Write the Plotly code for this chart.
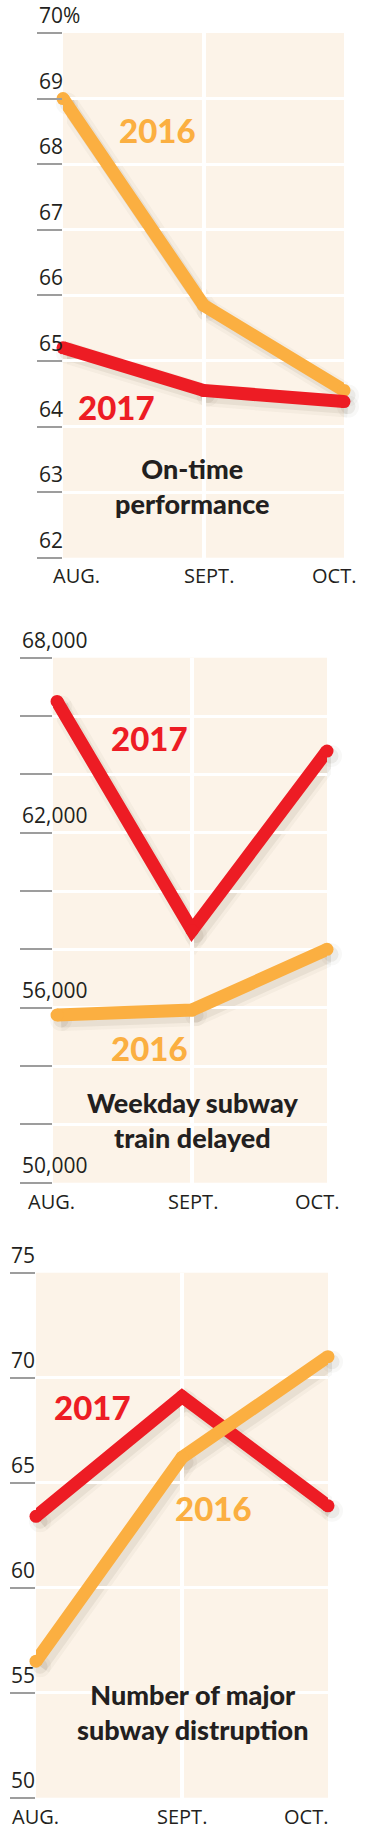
import plotly.graph_objects as go

# ---------------- data ----------------
months = ["AUG.", "SEPT.", "OCT."]

ontime_2016 = [69.0, 65.85, 64.55]
ontime_2017 = [65.2, 64.55, 64.38]
ontime_ticks = [62, 63, 64, 65, 66, 67, 68, 69, 70]
ontime_ticktext = ["62", "63", "64", "65", "66", "67", "68", "69", "70%"]

delays_2016 = [55750, 55920, 58000]
delays_2017 = [66500, 58650, 64800]
delays_ticks = [50000, 52000, 54000, 56000, 58000, 60000, 62000, 64000, 66000, 68000]
delays_ticktext = ["50,000", "", "", "56,000", "", "", "62,000", "", "", "68,000"]

disrupt_2016 = [56.5, 66.2, 71.0]
disrupt_2017 = [63.4, 69.1, 63.9]
disrupt_ticks = [50, 55, 60, 65, 70, 75]
disrupt_ticktext = ["50", "55", "60", "65", "70", "75"]

titles = ["On-time<br>performance", "Weekday subway<br>train delayed",
          "Number of major<br>subway distruption"]

# ---------------- styling / layout ----------------
W, H = 387, 1831
ORANGE = "#FBAF41"
RED = "#ED1C24"
BG = "#FCF3E8"
INK = "#231F20"
TICKC = "#9D9D9D"
BIG = "Lato, DejaVu Sans"
SMALL = "Open Sans, Lato, sans-serif"

panels = [
    dict(left=63, right=344, top=33, bottom=557.7, xr=[0, 2], yr=[62, 70],
         ticks=ontime_ticks, ticktext=ontime_ticktext, ticklen=25, lab_left=37,
         s16=ontime_2016, s17=ontime_2017, order=["2016", "2017"],
         lab16=(0.67, 68.52), lab17=(0.384, 64.3), title=(0.92, 63.09),
         xlab_y=576, xshift=[13, 5.5, -10.5]),
    dict(left=53, right=327, top=657.7, bottom=1182.7, xr=[-0.03, 2], yr=[50000, 68000],
         ticks=delays_ticks, ticktext=delays_ticktext, ticklen=32, lab_left=20,
         s16=delays_2016, s17=delays_2017, order=["2016", "2017"],
         lab16=(0.685, 54620), lab17=(0.685, 65247), title=(1.007, 52152),
         xlab_y=1201.7, xshift=[-5.5, 0.5, -10]),
    dict(left=36, right=328, top=1272.7, bottom=1797.7, xr=[0, 2], yr=[50, 75],
         ticks=disrupt_ticks, ticktext=disrupt_ticktext, ticklen=25, lab_left=9,
         s16=disrupt_2016, s17=disrupt_2017, order=["2017", "2016"],
         lab16=(1.216, 63.8), lab17=(0.384, 68.6), title=(1.075, 54.1),
         xlab_y=1816, xshift=[-1, -0.5, -22]),
]

SHX, SHY = 4, 5  # drop-shadow offset in px

fig = go.Figure()
layout = dict(width=W, height=H, margin=dict(l=0, r=0, t=0, b=0),
              paper_bgcolor="white", plot_bgcolor="rgba(0,0,0,0)",
              showlegend=False, annotations=[], shapes=[])

xs = [0, 1, 2]
for i, p in enumerate(panels):
    sid = i + 1          # shadow subplot id (drawn first)
    mid = i + 4          # main subplot id
    dom_x = [p["left"] / W, p["right"] / W]
    dom_y = [1 - p["bottom"] / H, 1 - p["top"] / H]
    sdom_x = [(p["left"] + SHX) / W, (p["right"] + SHX) / W]
    sdom_y = [1 - (p["bottom"] + SHY) / H, 1 - (p["top"] + SHY) / H]

    sx = "x" if sid == 1 else f"x{sid}"
    sy = "y" if sid == 1 else f"y{sid}"
    mx, my = f"x{mid}", f"y{mid}"

    layout[f"xaxis{'' if sid == 1 else sid}"] = dict(domain=sdom_x, range=p["xr"], visible=False,
                                                    anchor=sy)
    layout[f"yaxis{'' if sid == 1 else sid}"] = dict(domain=sdom_y, range=p["yr"], visible=False,
                                                    anchor=sx)
    layout[f"xaxis{mid}"] = dict(domain=dom_x, range=p["xr"], anchor=my,
                                 tickmode="array", tickvals=[1], showticklabels=False,
                                 ticks="", showgrid=True, gridcolor="white", gridwidth=3.5,
                                 zeroline=False, showline=False)
    layout[f"yaxis{mid}"] = dict(domain=dom_y, range=p["yr"], anchor=mx,
                                 tickmode="array", tickvals=p["ticks"], showticklabels=False,
                                 ticks="outside", ticklen=p["ticklen"], tickwidth=2,
                                 tickcolor=TICKC, showgrid=True, gridcolor="white",
                                 gridwidth=2.5, zeroline=False, showline=False)

    # background panel
    layout["shapes"].append(dict(type="rect", xref="paper", yref="paper",
                                 x0=dom_x[0], x1=dom_x[1], y0=dom_y[0], y1=dom_y[1],
                                 fillcolor=BG, line=dict(width=0), layer="below"))

    series = {"2016": (p["s16"], ORANGE), "2017": (p["s17"], RED)}
    for key in p["order"]:
        vals, col = series[key]
        for w, a in [(22, 0.035), (15, 0.07)]:
            fig.add_trace(go.Scatter(x=xs, y=vals, xaxis=sx, yaxis=sy, mode="lines+markers",
                                     line=dict(color=f"rgba(70,50,30,{a})", width=w),
                                     marker=dict(size=w, color=f"rgba(70,50,30,{a})"),
                                     cliponaxis=False, hoverinfo="skip"))
    for key in p["order"]:
        vals, col = series[key]
        fig.add_trace(go.Scatter(x=xs, y=vals, xaxis=mx, yaxis=my, mode="lines+markers",
                                 line=dict(color=col, width=13),
                                 marker=dict(size=13, color=col, line=dict(width=0)),
                                 cliponaxis=False, name=key))

    # y tick labels (above tick lines, left aligned)
    for v, t in zip(p["ticks"], p["ticktext"]):
        if t:
            layout["annotations"].append(dict(text=t, xref="paper", x=p["lab_left"] / W,
                                              xanchor="left", yref=my, y=v, yanchor="bottom",
                                              yshift=2, showarrow=False,
                                              font=dict(family=SMALL, size=21, color=INK)))
    # x labels
    for j, m in enumerate(months):
        layout["annotations"].append(dict(text=m, xref=mx, x=j, xshift=p["xshift"][j],
                                          yref="paper", y=1 - p["xlab_y"] / H, yanchor="middle",
                                          showarrow=False,
                                          font=dict(family=SMALL, size=20, color=INK)))
    # series labels
    for key, pos, col in [("2016", p["lab16"], ORANGE), ("2017", p["lab17"], RED)]:
        layout["annotations"].append(dict(text=key, xref=mx, yref=my,
                                          x=pos[0], y=pos[1], showarrow=False,
                                          font=dict(family=BIG, size=33, color=col, weight=900)))
    layout["annotations"].append(dict(text=titles[i], xref=mx, yref=my,
                                      x=p["title"][0], y=p["title"][1], showarrow=False,
                                      font=dict(family=BIG, size=27, color=INK, weight=900)))

fig.update_layout(**layout)
fig.write_html("out.html")
